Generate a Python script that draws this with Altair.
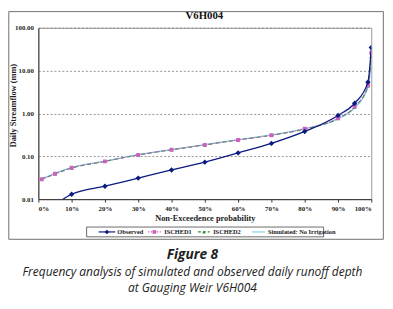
import altair as alt
import pandas as pd

# ---- data ----
pct_obs = [0.05, 0.10, 0.20, 0.30, 0.40, 0.50, 0.60, 0.70, 0.80, 0.90, 0.95, 0.99, 1.00]
observed = [0.0075, 0.013, 0.020, 0.031, 0.048, 0.073, 0.12, 0.20, 0.38, 0.90, 1.73, 5.4, 34.6]

pct_sim = [0.01, 0.05, 0.10, 0.20, 0.30, 0.40, 0.50, 0.60, 0.70, 0.80, 0.90, 0.95, 0.99, 1.00]
isched1 = [0.029, 0.039, 0.054, 0.076, 0.108, 0.143, 0.185, 0.24, 0.31, 0.44, 0.78, 1.46, 4.6, 25.6]
isched2 = [0.029, 0.039, 0.053, 0.076, 0.107, 0.142, 0.184, 0.24, 0.31, 0.43, 0.76, 1.42, 4.4, 21.5]
no_irr = [0.030, 0.040, 0.055, 0.077, 0.109, 0.144, 0.187, 0.245, 0.315, 0.44, 0.74, 1.35, 4.0, 17.0]

x_ticks = [0.0, 0.1, 0.2, 0.3, 0.4, 0.5, 0.6, 0.7, 0.8, 0.9, 1.0]
y_ticks = [0.01, 0.1, 1, 10, 100]

series_names = ["Observed", "ISCHED1", "ISCHED2", "Simulated: No Irrigation"]
chart_title = "V6H004"
y_title = "Daily Streamflow (mm)"
x_title = "Non-Exceedence probability"
fig_label = "Figure 8"
caption1 = "Frequency analysis of simulated and observed daily runoff depth"
caption2 = "at Gauging Weir V6H004"

# ---- styling ----
C_OBS = "#0a1a80"
C_I1 = "#d060c0"
C_I2 = "#2e8b3a"
C_NI = "#80d4e6"
SERIF = "Liberation Serif"
SANS = "Open Sans"

W, H = 340, 175

df_obs = pd.DataFrame({"p": pct_obs, "v": observed})
df_i1 = pd.DataFrame({"p": pct_sim, "v": isched1})
df_i2 = pd.DataFrame({"p": pct_sim, "v": isched2})
df_ni = pd.DataFrame({"p": pct_sim, "v": no_irr})
one = pd.DataFrame({"k": [0]})

xscale = alt.Scale(domain=[0, 1], nice=False)
yscale = alt.Scale(type="log", domain=[0.01, 100], nice=False)

x_axis = alt.Axis(values=x_ticks, format=".0%", grid=False, labelFont=SERIF,
                  labelFontSize=7, labelFontWeight="bold", labelColor="#222",
                  tickSize=3, tickColor="#333", domainColor="#333", labelPadding=2.5,
                  title=x_title, titleFont=SERIF, titleFontSize=8.5,
                  titleFontWeight="bold", titleColor="#222", titleY=14.5)
y_axis = alt.Axis(values=y_ticks, format=".2f", grid=True, gridDash=[2, 2],
                  gridColor="#777", gridWidth=0.8, labelFont=SERIF, labelFontSize=7,
                  labelFontWeight="bold", labelColor="#222", ticks=False,
                  domainColor="#333", labelPadding=5,
                  title=y_title, titleFont=SERIF, titleFontSize=8.5,
                  titleFontWeight="bold", titleColor="#222", titleAngle=270,
                  titleBaseline="middle", titleX=-26.5, titleY=79)

X = alt.X("p:Q", scale=xscale, axis=x_axis)
Y = alt.Y("v:Q", scale=yscale, axis=y_axis)


def line_layer(df, color, dash=None, width=1.3):
    kw = dict(color=color, strokeWidth=width, interpolate="monotone", clip=True)
    if dash:
        kw["strokeDash"] = dash
    return alt.Chart(df).mark_line(**kw).encode(x=X, y=Y)


def point_layer(df, color, shape, size):
    return alt.Chart(df).mark_point(shape=shape, filled=True, color=color, size=size,
                                    opacity=1, clip=True).encode(x=X, y=Y)


layers = [
    line_layer(df_ni, C_NI, width=1.3),
    line_layer(df_i2, C_I2, dash=[4, 3], width=1.1),
    point_layer(df_i2, C_I2, "triangle-up", 16),
    line_layer(df_i1, C_I1, dash=[1.5, 1.5], width=1.1),
    point_layer(df_i1, C_I1, "square", 16),
    line_layer(df_obs, C_OBS, width=1.3),
    point_layer(df_obs, C_OBS, "diamond", 30),
]

# outer frame of the figure
layers.append(alt.Chart(one).mark_rect(fill=None, stroke="#6f6f6f", strokeWidth=1).encode(
    x=alt.value(-30.2), x2=alt.value(352.3), y=alt.value(-16.5), y2=alt.value(216)))

# chart title
layers.append(alt.Chart(one).mark_text(font=SERIF, fontSize=11, fontWeight="bold",
                                       color="#111", baseline="middle").encode(
    x=alt.value(169.5), y=alt.value(-11.5), text=alt.value(chart_title)))

# manual legend
layers.append(alt.Chart(one).mark_rect(fill="white", stroke="#444", strokeWidth=0.8).encode(
    x=alt.value(49.3), x2=alt.value(291.3), y=alt.value(203.5), y2=alt.value(213.5)))
LY = 208.5
leg = [
    (series_names[0], C_OBS, None, 61.5, 78.5, "diamond", 22, 80.5),
    (series_names[1], C_I1, [1.5, 1.5], 112, 125, "square", 14, 128.5),
    (series_names[2], C_I2, [3, 2], 163, 175, "triangle-up", 12, 178.5),
    (series_names[3], C_NI, None, 218, 231.5, None, 0, 234.5),
]
for name, col, dash, x0, x1, shape, size, tx in leg:
    kw = dict(color=col, strokeWidth=1.2)
    if dash:
        kw["strokeDash"] = dash
    layers.append(alt.Chart(one).mark_rule(**kw).encode(
        x=alt.value(x0), x2=alt.value(x1), y=alt.value(LY)))
    if shape:
        layers.append(alt.Chart(one).mark_point(shape=shape, filled=True, color=col,
                                                size=size, opacity=1).encode(
            x=alt.value((x0 + x1) / 2), y=alt.value(LY)))
    layers.append(alt.Chart(one).mark_text(font=SERIF, fontSize=6.5, fontWeight="bold",
                                           color="#222", align="left",
                                           baseline="middle").encode(
        x=alt.value(tx), y=alt.value(LY), text=alt.value(name)))

# figure caption
layers.append(alt.Chart(one).mark_text(font=SANS, fontSize=14, fontWeight="bold",
                                       fontStyle="italic", color="#222",
                                       baseline="middle").encode(
    x=alt.value(157.3), y=alt.value(232), text=alt.value(fig_label)))
layers.append(alt.Chart(one).mark_text(font=SANS, fontSize=12.2, fontStyle="italic",
                                       color="#222", baseline="middle").encode(
    x=alt.value(157.3), y=alt.value(249.5), text=alt.value(caption1)))
layers.append(alt.Chart(one).mark_text(font=SANS, fontSize=12.2, fontStyle="italic",
                                       color="#222", baseline="middle").encode(
    x=alt.value(157.3), y=alt.value(265.5), text=alt.value(caption2)))

chart = alt.layer(*layers).properties(
    width=W, height=H,
    autosize=alt.AutoSizeParams(type="none"),
    padding={"left": 31, "top": 17, "right": 14, "bottom": 109},
    background="white",
).configure_view(stroke="#999", strokeWidth=1)

chart.save("out.html", embed_options={"renderer": "svg", "actions": False})
